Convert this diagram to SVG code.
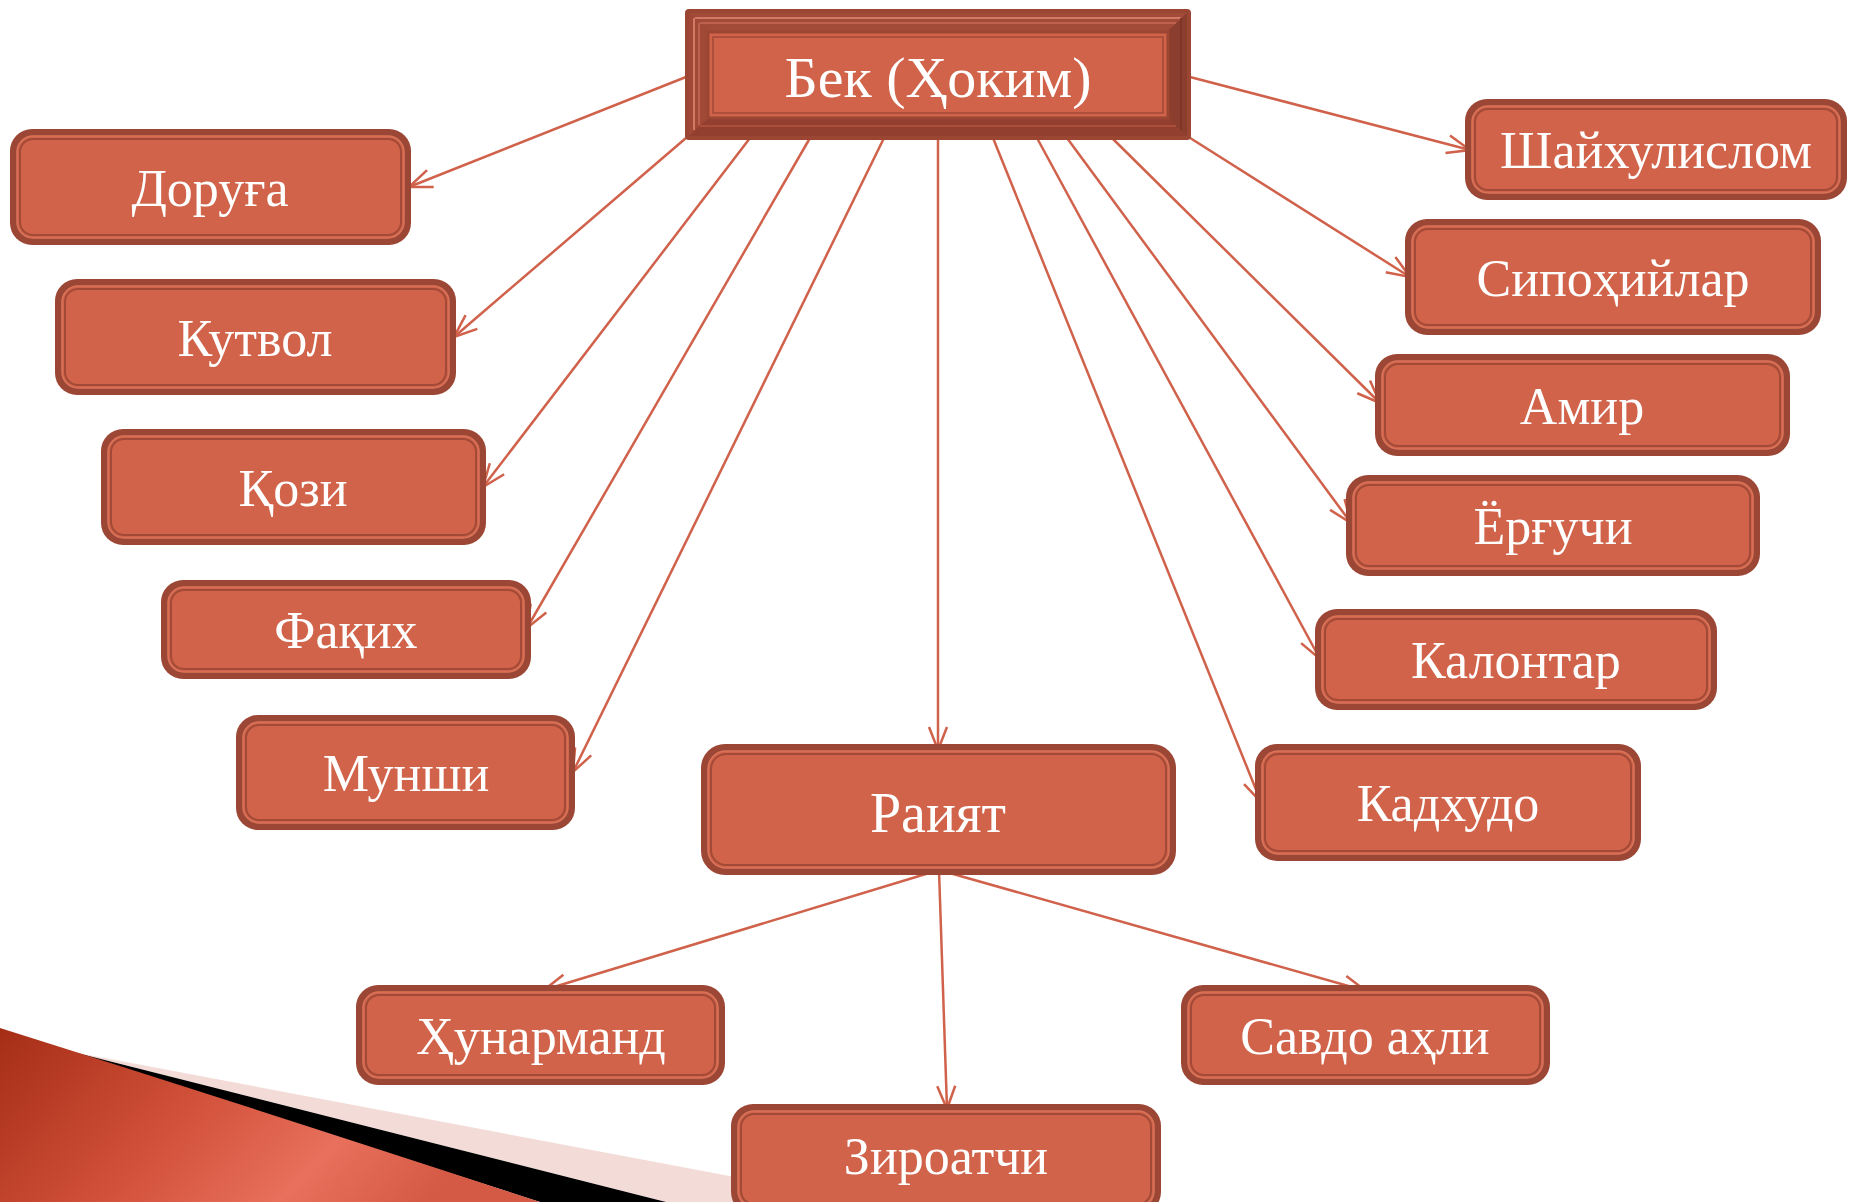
<svg xmlns="http://www.w3.org/2000/svg" width="1849" height="1202" viewBox="0 0 1849 1202">
<style>
.bo{fill:#9c4735}
.bi{fill:#d06349;stroke:#d9745b;stroke-width:1.5}
.bl{fill:none;stroke:#a24a37;stroke-width:2}
.t{font-family:"Liberation Serif","Times New Roman",serif;font-size:52px;fill:#ffffff;text-anchor:middle}
.c{stroke:#d0614b;stroke-width:2.5;fill:none}
</style>
<defs>
<marker id="ah" viewBox="0 0 26 22" refX="25" refY="11" markerWidth="26" markerHeight="22" markerUnits="userSpaceOnUse" orient="auto">
<path d="M2,2 L25,11 L2,20" fill="none" stroke="#d0614b" stroke-width="2.5"/>
</marker>
<linearGradient id="rg" x1="0" y1="0" x2="1" y2="0.3">
<stop offset="0" stop-color="#a52d16"/>
<stop offset="0.45" stop-color="#d2513a"/>
<stop offset="0.75" stop-color="#e8705c"/>
<stop offset="1" stop-color="#d55a45"/>
</linearGradient>
</defs>
<rect width="1849" height="1202" fill="#ffffff"/>
<g id="decoration">
<polygon points="73,1052 735,1177 735,1202 666,1202" fill="#f3dcd7"/>
<polygon points="73,1052 666,1202 540,1202" fill="#000000"/>
<path d="M0,1028 Q260,1110 540,1202 L0,1202 Z" fill="url(#rg)"/>
</g>
<g id="connectors">
<line class="c" x1="686" y1="77" x2="409" y2="187" marker-end="url(#ah)"/>
<line class="c" x1="686" y1="138" x2="454" y2="337" marker-end="url(#ah)"/>
<line class="c" x1="750" y1="138" x2="483" y2="487" marker-end="url(#ah)"/>
<line class="c" x1="810" y1="138" x2="527" y2="628" marker-end="url(#ah)"/>
<line class="c" x1="884" y1="138" x2="573" y2="772" marker-end="url(#ah)"/>
<line class="c" x1="938" y1="138" x2="938" y2="750" marker-end="url(#ah)"/>
<line class="c" x1="993" y1="138" x2="1261" y2="802" marker-end="url(#ah)"/>
<line class="c" x1="1037" y1="138" x2="1320" y2="659" marker-end="url(#ah)"/>
<line class="c" x1="1067" y1="138" x2="1351" y2="523" marker-end="url(#ah)"/>
<line class="c" x1="1112" y1="138" x2="1380" y2="403" marker-end="url(#ah)"/>
<line class="c" x1="1187" y1="136" x2="1410" y2="277" marker-end="url(#ah)"/>
<line class="c" x1="1190" y1="77" x2="1470" y2="150" marker-end="url(#ah)"/>
<line class="c" x1="939" y1="870" x2="544" y2="990" marker-end="url(#ah)"/>
<line class="c" x1="939" y1="870" x2="947" y2="1109" marker-end="url(#ah)"/>
<line class="c" x1="939" y1="870" x2="1366" y2="991" marker-end="url(#ah)"/>
</g>
<g id="bek">
<rect x="685" y="9" width="506" height="131" rx="4" fill="#9b4633"/>
<polygon points="689,13 1187,13 1167,32 709,32" fill="#a24b39"/>
<polygon points="689,13 709,32 709,118 689,136" fill="#a04937"/>
<polygon points="1187,13 1187,136 1167,118 1167,32" fill="#8c3e2e"/>
<polygon points="689,136 709,118 1167,118 1187,136" fill="#933f2f"/>
<line x1="695" y1="18" x2="1181" y2="18" stroke="#d27a64" stroke-width="2"/>
<line x1="700" y1="23" x2="1176" y2="23" stroke="#c86a55" stroke-width="1.5"/>
<line x1="694" y1="18" x2="694" y2="130" stroke="#d27a64" stroke-width="2"/>
<line x1="699" y1="23" x2="699" y2="125" stroke="#c86a55" stroke-width="1.5"/>
<line x1="1181" y1="18" x2="1181" y2="130" stroke="#7e3527" stroke-width="2"/>
<line x1="700" y1="126" x2="1176" y2="126" stroke="#b5563f" stroke-width="1.5"/>
<rect x="708" y="32" width="460" height="86" fill="#d06349" stroke="#9b4633" stroke-width="3"/>
<rect x="713" y="37" width="450" height="76" fill="none" stroke="#a24a37" stroke-width="1.5"/>
<text class="t" x="938" y="97" style="font-size:58px">Бек (Ҳоким)</text>
</g>
<g id="doruga">
<rect class="bo" x="10" y="129" width="401" height="116" rx="22"/>
<rect class="bi" x="17" y="136" width="387" height="102" rx="16"/>
<rect class="bl" x="20" y="139" width="381" height="96" rx="13"/>
<text class="t" x="210" y="206">Доруға</text>
</g>
<g id="kutvol">
<rect class="bo" x="55" y="279" width="401" height="116" rx="22"/>
<rect class="bi" x="62" y="286" width="387" height="102" rx="16"/>
<rect class="bl" x="65" y="289" width="381" height="96" rx="13"/>
<text class="t" x="255" y="356">Кутвол</text>
</g>
<g id="qozi">
<rect class="bo" x="101" y="429" width="385" height="116" rx="22"/>
<rect class="bi" x="108" y="436" width="371" height="102" rx="16"/>
<rect class="bl" x="111" y="439" width="365" height="96" rx="13"/>
<text class="t" x="293" y="506">Қози</text>
</g>
<g id="faqih">
<rect class="bo" x="161" y="580" width="370" height="99" rx="22"/>
<rect class="bi" x="168" y="587" width="356" height="85" rx="16"/>
<rect class="bl" x="171" y="590" width="350" height="79" rx="13"/>
<text class="t" x="346" y="648">Фақих</text>
</g>
<g id="munshi">
<rect class="bo" x="236" y="715" width="339" height="115" rx="22"/>
<rect class="bi" x="243" y="722" width="325" height="101" rx="16"/>
<rect class="bl" x="246" y="725" width="319" height="95" rx="13"/>
<text class="t" x="406" y="791">Мунши</text>
</g>
<g id="shayxulislom">
<rect class="bo" x="1465" y="99" width="382" height="101" rx="22"/>
<rect class="bi" x="1472" y="106" width="368" height="87" rx="16"/>
<rect class="bl" x="1475" y="109" width="362" height="81" rx="13"/>
<text class="t" x="1656" y="168">Шайхулислом</text>
</g>
<g id="sipohiylar">
<rect class="bo" x="1405" y="219" width="416" height="116" rx="22"/>
<rect class="bi" x="1412" y="226" width="402" height="102" rx="16"/>
<rect class="bl" x="1415" y="229" width="396" height="96" rx="13"/>
<text class="t" x="1613" y="296">Сипоҳийлар</text>
</g>
<g id="amir">
<rect class="bo" x="1375" y="354" width="415" height="102" rx="22"/>
<rect class="bi" x="1382" y="361" width="401" height="88" rx="16"/>
<rect class="bl" x="1385" y="364" width="395" height="82" rx="13"/>
<text class="t" x="1582" y="424">Амир</text>
</g>
<g id="ergruchi">
<rect class="bo" x="1346" y="475" width="414" height="101" rx="22"/>
<rect class="bi" x="1353" y="482" width="400" height="87" rx="16"/>
<rect class="bl" x="1356" y="485" width="394" height="81" rx="13"/>
<text class="t" x="1553" y="544">Ёрғучи</text>
</g>
<g id="kalontar">
<rect class="bo" x="1315" y="609" width="402" height="101" rx="22"/>
<rect class="bi" x="1322" y="616" width="388" height="87" rx="16"/>
<rect class="bl" x="1325" y="619" width="382" height="81" rx="13"/>
<text class="t" x="1516" y="678">Калонтар</text>
</g>
<g id="kadxudo">
<rect class="bo" x="1255" y="744" width="386" height="117" rx="22"/>
<rect class="bi" x="1262" y="751" width="372" height="103" rx="16"/>
<rect class="bl" x="1265" y="754" width="366" height="97" rx="13"/>
<text class="t" x="1448" y="821">Кадхудо</text>
</g>
<g id="raiyat">
<rect class="bo" x="701" y="744" width="475" height="131" rx="24"/>
<rect class="bi" x="708" y="751" width="461" height="117" rx="18"/>
<rect class="bl" x="711" y="754" width="455" height="111" rx="15"/>
<text class="t" x="938" y="832" style="font-size:56px">Раият</text>
</g>
<g id="hunarmand">
<rect class="bo" x="356" y="985" width="369" height="100" rx="22"/>
<rect class="bi" x="363" y="992" width="355" height="86" rx="16"/>
<rect class="bl" x="366" y="995" width="349" height="80" rx="13"/>
<text class="t" x="541" y="1054">Ҳунарманд</text>
</g>
<g id="savdo">
<rect class="bo" x="1181" y="985" width="369" height="100" rx="22"/>
<rect class="bi" x="1188" y="992" width="355" height="86" rx="16"/>
<rect class="bl" x="1191" y="995" width="349" height="80" rx="13"/>
<text class="t" x="1365" y="1054">Савдо аҳли</text>
</g>
<g id="ziroatchi">
<rect class="bo" x="731" y="1104" width="430" height="110" rx="22"/>
<rect class="bi" x="738" y="1111" width="416" height="96" rx="16"/>
<rect class="bl" x="741" y="1114" width="410" height="90" rx="13"/>
<text class="t" x="946" y="1174">Зироатчи</text>
</g>
</svg>
